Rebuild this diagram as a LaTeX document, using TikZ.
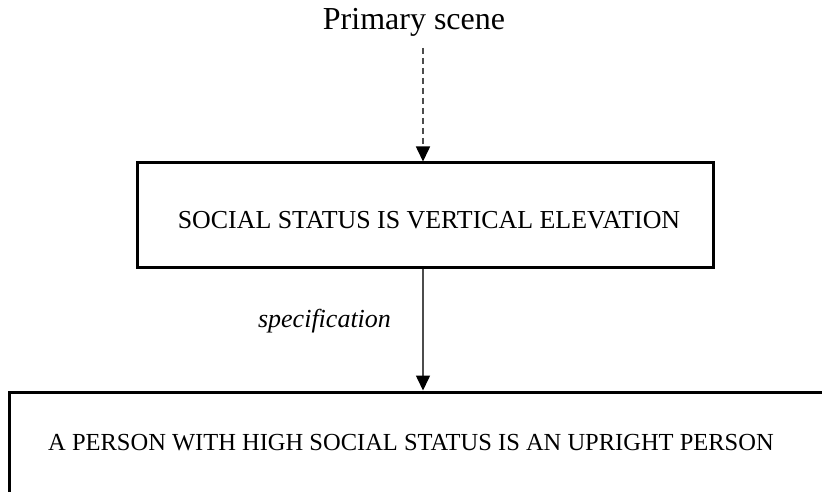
\documentclass[tikz,border=0pt]{standalone}
\usepackage{fontspec}
\setmainfont{Liberation Serif}
\usetikzlibrary{arrows.meta}
\begin{document}
\begin{tikzpicture}[x=1pt,y=-1pt,
  boxnode/.style={draw=black, line width=3pt, rectangle, inner sep=0pt},
  connector/.style={draw=black!70, line width=1.6pt,
    -{Triangle[width=14pt,length=15pt,fill=black,color=black]}},
  dashedconnector/.style={connector, dash pattern=on 6pt off 4pt}
]
\useasboundingbox (0,0) rectangle (822,492);
\clip (0,0) rectangle (822,492);

% title
\node[font=\fontsize{32}{36}\selectfont, anchor=base, inner sep=0pt] (scene) at (414,30) {Primary scene};

% upper box (text height/depth set so the capitals sit a little below centre,
% leading space nudges the line slightly right)
\node[boxnode, font=\fontsize{25.9}{30}\selectfont, text height=26pt, text depth=0pt,
      minimum width=576pt, minimum height=104pt] (upper) at (425,215)
  {\hspace*{8pt}SOCIAL STATUS IS VERTICAL ELEVATION};

% lower box, running past the right and bottom edges
\node[boxnode, minimum width=830pt, minimum height=120pt] (lower) at (424,452) {};
\node[font=\fontsize{24.5}{28}\selectfont, inner sep=0pt] (lowertext) at (411,443)
  {A PERSON WITH HIGH SOCIAL STATUS IS AN UPRIGHT PERSON};

% connectors
\coordinate (scenefoot) at (423,48);
\draw[dashedconnector] (scenefoot) -- (scenefoot |- upper.north);
\draw[connector] (upper.south -| scenefoot) -- (lower.north -| scenefoot);

% label of the specification link
\node[font=\fontsize{26}{30}\selectfont\itshape, anchor=base, inner sep=0pt] (spec) at (324.5,327) {specification};
\end{tikzpicture}
\end{document}
